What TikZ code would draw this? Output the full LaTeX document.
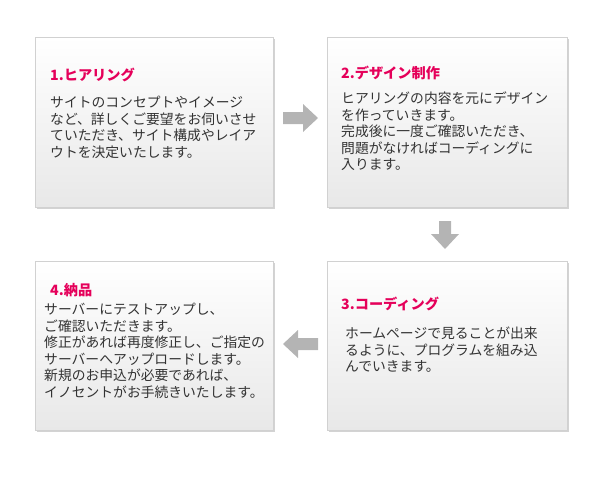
\documentclass[tikz,border=0pt]{standalone}
\usepackage{fontspec}
\newfontfamily\jp{Noto Sans CJK JP}
\usetikzlibrary{shadows}
\definecolor{ttl}{HTML}{E5005A}
\definecolor{bodyc}{HTML}{333333}
\definecolor{arr}{HTML}{B4B4B4}
\tikzset{
 card/.style={draw=black!18,line width=0.5pt,top color=white,bottom color=black!9,drop shadow={shadow xshift=1.5pt,shadow yshift=-1.5pt,opacity=0.35}},
 ttlt/.style={anchor=west,font=\jp\bfseries\fontsize{14.2}{16}\selectfont,text=ttl,inner sep=0pt},
 bodyt/.style={anchor=north west,font=\jp\fontsize{13.8}{16.5}\selectfont,text=bodyc,inner sep=0pt,align=left},
 garrow/.style={fill=arr,draw=none}
}
\begin{document}
\begin{tikzpicture}[x=1pt,y=-1pt]
\useasboundingbox (0,0) rectangle (610,480);
\path[card] (35,37) rectangle (273,207) node[pos=0] (b1) {};
\path[card] (327,37) rectangle (567,207) node[pos=0] (b2) {};
\path[card] (327,261) rectangle (567,430) node[pos=0] (b3) {};
\path[card] (35,261) rectangle (273,430) node[pos=0] (b4) {};
\node[ttlt] (t1) at (50,75) {1.ヒアリング};
\node[bodyt] (x1) at (50,96) {サイトのコンセプトやイメージ\\など、詳しくご要望をお伺いさせ\\ていただき、サイト構成やレイア\\ウトを決定いたします。};
\node[ttlt] (t2) at (341,73) {2.デザイン制作};
\node[bodyt] (x2) at (341,92) {ヒアリングの内容を元にデザイン\\を作っていきます。\\完成後に一度ご確認いただき、\\問題がなければコーディングに\\入ります。};
\node[ttlt] (t3) at (341,304) {3.コーディング};
\node[bodyt] (x3) at (345,327) {ホームページで見ることが出来\\るように、プログラムを組み込\\んでいきます。};
\node[ttlt] (t4) at (50,290) {4.納品};
\node[bodyt] (x4) at (44,303) {サーバーにテストアップし、\\ご確認いただきます。\\修正があれば再度修正し、ご指定の\\サーバーへアップロードします。\\新規のお申込が必要であれば、\\イノセントがお手続きいたします。};
\path[garrow] (283,112)--(303,112)--(303,104)--(318,118)--(303,132)--(303,124)--(283,124)--cycle;
\path[garrow] (439,221)--(451,221)--(451,234)--(459,234)--(445,249)--(431,234)--(439,234)--cycle;
\path[garrow] (318,338)--(298,338)--(298,330)--(283,344)--(298,358)--(298,350)--(318,350)--cycle;
\end{tikzpicture}
\end{document}
